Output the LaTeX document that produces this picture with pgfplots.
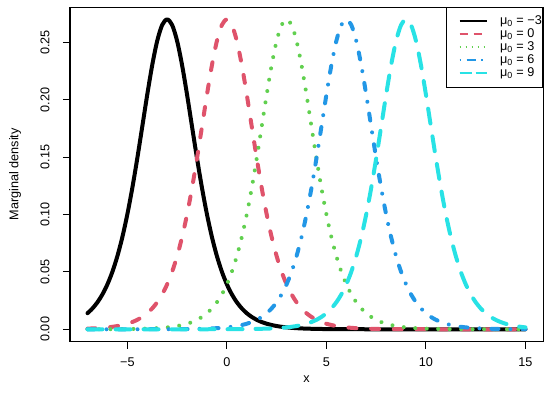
\documentclass[border=0pt]{standalone}
\usepackage{fontspec}
\setmainfont{Liberation Sans}
\usepackage{pgfplots}
\pgfplotsset{compat=1.18}
\definecolor{rred}{HTML}{DF536B}
\definecolor{rgreen}{HTML}{61D04F}
\definecolor{rblue}{HTML}{2297E6}
\definecolor{rcyan}{HTML}{28E2E5}
\newcommand{\lbl}{\fontsize{9.5}{11}\selectfont}
\begin{document}
\begin{tikzpicture}
\useasboundingbox (-52.5pt,-41.5pt) rectangle (360pt,256.25pt);
\begin{axis}[
  at={(0,0)}, anchor=south west,
  scale only axis, width=354.75pt, height=251pt,
  xmin=-7.88, xmax=15.88, ymin=-0.0108, ymax=0.2808,
  xtick={-5,0,5,10,15}, xticklabels={−5,0,5,10,15},
  ytick={0,0.05,0.1,0.15,0.2,0.25},
  yticklabels={0.00,0.05,0.10,0.15,0.20,0.25},
  tick align=outside, xtick pos=left, ytick pos=left,
  major tick length=5.25pt,
  axis line style={line width=0.75pt},
  every tick/.style={black, line width=0.75pt},
  tick label style={font=\lbl},
  xticklabel style={anchor=center, yshift=-10pt},
  yticklabel style={xshift=-13.5pt, rotate=90, anchor=center},
  xlabel={x}, ylabel={Marginal density},
  every axis x label/.style={at={(axis description cs:0.5,-0.111)}, anchor=center, font=\lbl},
  every axis y label/.style={at={(axis description cs:-0.1163,0.5)}, rotate=90, anchor=center, font=\lbl},
  legend style={at={(1,1)}, anchor=north east, draw=black, line width=0.75pt, fill=white,
    font=\lbl, inner xsep=0.5pt, inner ysep=5.6pt, row sep=0pt,
    nodes={inner sep=0pt, text height=7pt, text depth=2.75pt},
    /tikz/every odd column/.append style={column sep=8.8pt}},
  legend cell align=left,
  legend image code/.code={\path (0pt,0pt); \draw[#1] (8.2pt,0pt) -- (29pt,0pt);},
  every axis plot/.append style={line width=3pt, line cap=round, line join=round, smooth},
]
\addplot[black, forget plot] coordinates {(-7,0.01399) (-6.75,0.01818) (-6.5,0.02356) (-6.25,0.03044) (-6,0.03917) (-5.75,0.05013) (-5.5,0.06373) (-5.25,0.08032) (-5,0.10012) (-4.75,0.12314) (-4.5,0.14894) (-4.25,0.17657) (-4,0.20439) (-3.75,0.23014) (-3.5,0.25123) (-3.25,0.26514) (-3,0.27) (-2.75,0.26514) (-2.5,0.25123) (-2.25,0.23014) (-2,0.20439) (-1.75,0.17657) (-1.5,0.14894) (-1.25,0.12314) (-1,0.10012) (-0.75,0.08032) (-0.5,0.06373) (-0.25,0.05013) (0,0.03917) (0.25,0.03044) (0.5,0.02356) (0.75,0.01818) (1,0.01399) (1.25,0.01075) (1.5,0.00824) (1.75,0.00632) (2,0.00483) (2.25,0.00370) (2.5,0.00283) (2.75,0.00216) (3,0.00165) (3.25,0.00126) (3.5,0.00096) (3.75,0.00074) (4,0.00056) (4.5,0.00033) (5,0.00019) (5.5,0.00011) (6,0.00006) (7,0.00002) (15,0)};
\addplot[rred, dash pattern=on 6pt off 11pt, forget plot] coordinates {(-7,0.00056) (-6.75,0.00074) (-6.5,0.00096) (-6.25,0.00126) (-6,0.00165) (-5.75,0.00216) (-5.5,0.00283) (-5.25,0.00370) (-5,0.00483) (-4.75,0.00632) (-4.5,0.00824) (-4.25,0.01075) (-4,0.01399) (-3.75,0.01818) (-3.5,0.02356) (-3.25,0.03044) (-3,0.03917) (-2.75,0.05013) (-2.5,0.06373) (-2.25,0.08032) (-2,0.10012) (-1.75,0.12314) (-1.5,0.14894) (-1.25,0.17657) (-1,0.20439) (-0.75,0.23014) (-0.5,0.25123) (-0.25,0.26514) (0,0.27) (0.25,0.26514) (0.5,0.25123) (0.75,0.23014) (1,0.20439) (1.25,0.17657) (1.5,0.14894) (1.75,0.12314) (2,0.10012) (2.25,0.08032) (2.5,0.06373) (2.75,0.05013) (3,0.03917) (3.25,0.03044) (3.5,0.02356) (3.75,0.01818) (4,0.01399) (4.25,0.01075) (4.5,0.00824) (4.75,0.00632) (5,0.00483) (5.25,0.00370) (5.5,0.00283) (5.75,0.00216) (6,0.00165) (6.25,0.00126) (6.5,0.00096) (6.75,0.00074) (7,0.00056) (7.5,0.00033) (8,0.00019) (8.5,0.00011) (9,0.00006) (10,0.00002) (15,0)};
\addplot[rgreen, line width=3pt, dash pattern=on 0.01pt off 8.6pt, forget plot] coordinates {(-7,0.00002) (-6,0.00006) (-5.5,0.00011) (-5,0.00019) (-4.5,0.00033) (-4,0.00056) (-3.75,0.00074) (-3.5,0.00096) (-3.25,0.00126) (-3,0.00165) (-2.75,0.00216) (-2.5,0.00283) (-2.25,0.00370) (-2,0.00483) (-1.75,0.00632) (-1.5,0.00824) (-1.25,0.01075) (-1,0.01399) (-0.75,0.01818) (-0.5,0.02356) (-0.25,0.03044) (0,0.03917) (0.25,0.05013) (0.5,0.06373) (0.75,0.08032) (1,0.10012) (1.25,0.12314) (1.5,0.14894) (1.75,0.17657) (2,0.20439) (2.25,0.23014) (2.5,0.25123) (2.75,0.26514) (3,0.27) (3.25,0.26514) (3.5,0.25123) (3.75,0.23014) (4,0.20439) (4.25,0.17657) (4.5,0.14894) (4.75,0.12314) (5,0.10012) (5.25,0.08032) (5.5,0.06373) (5.75,0.05013) (6,0.03917) (6.25,0.03044) (6.5,0.02356) (6.75,0.01818) (7,0.01399) (7.25,0.01075) (7.5,0.00824) (7.75,0.00632) (8,0.00483) (8.25,0.00370) (8.5,0.00283) (8.75,0.00216) (9,0.00165) (9.25,0.00126) (9.5,0.00096) (9.75,0.00074) (10,0.00056) (10.5,0.00033) (11,0.00019) (11.5,0.00011) (12,0.00006) (13,0.00002) (15,0)};
\addplot[rblue, dash pattern=on 5.25pt off 9pt on 0.01pt off 9pt, forget plot] coordinates {(-7,0) (-4,0.00002) (-3,0.00006) (-2.5,0.00011) (-2,0.00019) (-1.5,0.00033) (-1,0.00056) (-0.75,0.00074) (-0.5,0.00096) (-0.25,0.00126) (0,0.00165) (0.25,0.00216) (0.5,0.00283) (0.75,0.00370) (1,0.00483) (1.25,0.00632) (1.5,0.00824) (1.75,0.01075) (2,0.01399) (2.25,0.01818) (2.5,0.02356) (2.75,0.03044) (3,0.03917) (3.25,0.05013) (3.5,0.06373) (3.75,0.08032) (4,0.10012) (4.25,0.12314) (4.5,0.14894) (4.75,0.17657) (5,0.20439) (5.25,0.23014) (5.5,0.25123) (5.75,0.26514) (6,0.27) (6.25,0.26514) (6.5,0.25123) (6.75,0.23014) (7,0.20439) (7.25,0.17657) (7.5,0.14894) (7.75,0.12314) (8,0.10012) (8.25,0.08032) (8.5,0.06373) (8.75,0.05013) (9,0.03917) (9.25,0.03044) (9.5,0.02356) (9.75,0.01818) (10,0.01399) (10.25,0.01075) (10.5,0.00824) (10.75,0.00632) (11,0.00483) (11.25,0.00370) (11.5,0.00283) (11.75,0.00216) (12,0.00165) (12.25,0.00126) (12.5,0.00096) (12.75,0.00074) (13,0.00056) (13.5,0.00033) (14,0.00019) (14.5,0.00011) (15,0.00006)};
\addplot[rcyan, dash pattern=on 11.25pt off 9.75pt, forget plot] coordinates {(-7,0) (-1,0.00002) (0,0.00006) (0.5,0.00011) (1,0.00019) (1.5,0.00033) (2,0.00056) (2.25,0.00074) (2.5,0.00096) (2.75,0.00126) (3,0.00165) (3.25,0.00216) (3.5,0.00283) (3.75,0.00370) (4,0.00483) (4.25,0.00632) (4.5,0.00824) (4.75,0.01075) (5,0.01399) (5.25,0.01818) (5.5,0.02356) (5.75,0.03044) (6,0.03917) (6.25,0.05013) (6.5,0.06373) (6.75,0.08032) (7,0.10012) (7.25,0.12314) (7.5,0.14894) (7.75,0.17657) (8,0.20439) (8.25,0.23014) (8.5,0.25123) (8.75,0.26514) (9,0.27) (9.25,0.26514) (9.5,0.25123) (9.75,0.23014) (10,0.20439) (10.25,0.17657) (10.5,0.14894) (10.75,0.12314) (11,0.10012) (11.25,0.08032) (11.5,0.06373) (11.75,0.05013) (12,0.03917) (12.25,0.03044) (12.5,0.02356) (12.75,0.01818) (13,0.01399) (13.25,0.01075) (13.5,0.00824) (13.75,0.00632) (14,0.00483) (14.25,0.00370) (14.5,0.00283) (14.75,0.00216) (15,0.00165)};
\addlegendimage{black, line width=1.5pt, line cap=butt}
\addlegendentry{μ\textsubscript{0} = −3}
\addlegendimage{rred, line width=1.5pt, line cap=butt, dash pattern=on 6.5pt off 4pt}
\addlegendentry{μ\textsubscript{0} = 0}
\addlegendimage{rgreen, line width=1.5pt, line cap=butt, dash pattern=on 1.2pt off 3.3pt}
\addlegendentry{μ\textsubscript{0} = 3}
\addlegendimage{rblue, line width=1.5pt, line cap=butt, dash pattern=on 1pt off 4.2pt on 7pt off 4.2pt}
\addlegendentry{μ\textsubscript{0} = 6}
\addlegendimage{rcyan, line width=1.5pt, line cap=butt, dash pattern=on 9pt off 3pt}
\addlegendentry{μ\textsubscript{0} = 9}
\end{axis}
\end{tikzpicture}
\end{document}
